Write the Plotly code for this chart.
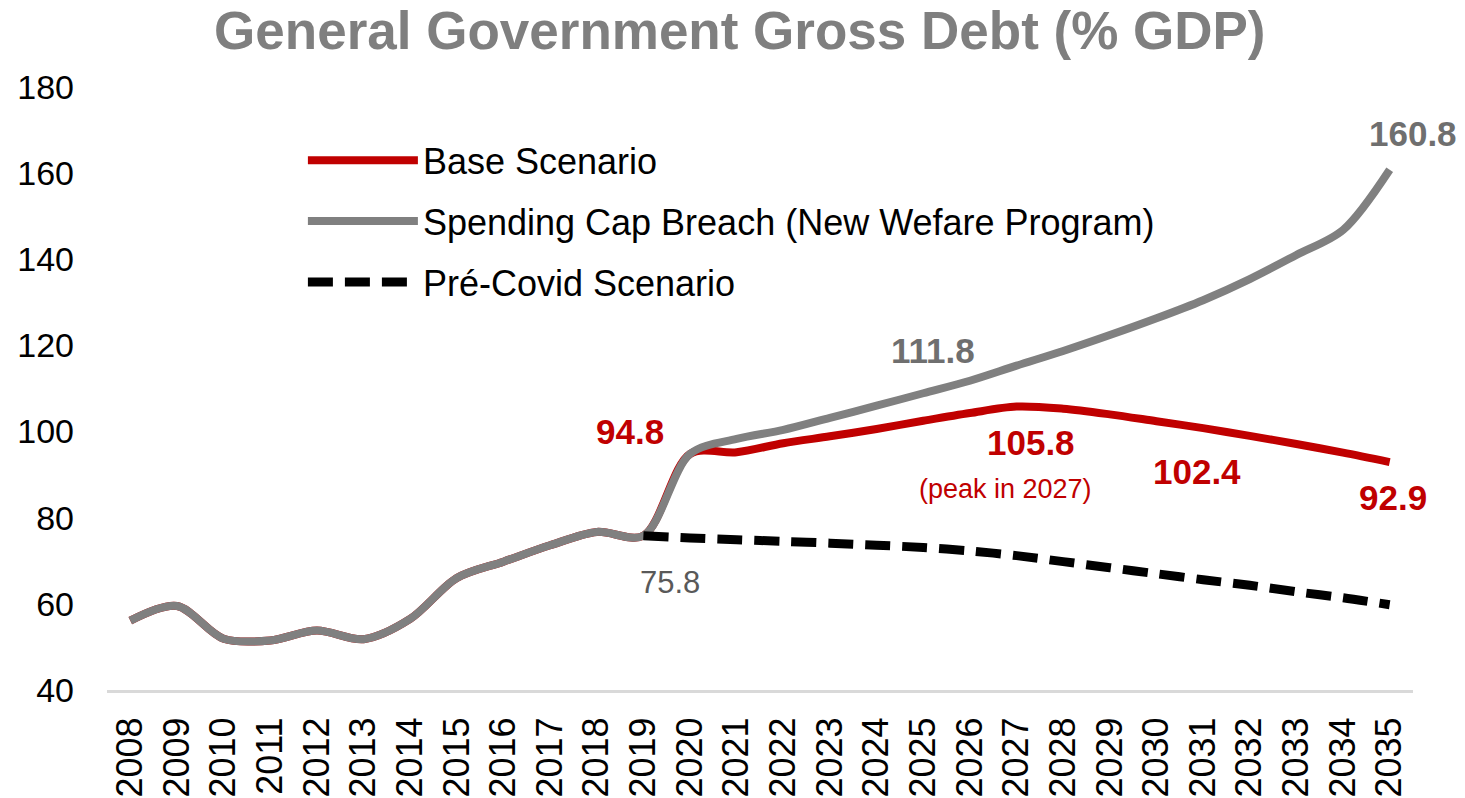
import plotly.graph_objects as go

years = list(range(2008, 2036))
hist = [56.1, 59.5, 51.9, 51.5, 53.8, 51.8, 56.5, 66.0, 69.8, 73.6, 76.7, 75.8]
base_proj = [94.8, 95.2, 97.3, 98.9, 100.6, 102.5, 104.3, 105.8, 105.3, 104.0,
             102.4, 100.8, 99.0, 97.1, 95.1, 92.9]
cap_proj = [94.8, 98.3, 100.4, 103.2, 106.0, 108.9, 111.8, 115.3, 118.7, 122.4,
            126.3, 130.5, 135.4, 141.0, 146.8, 160.8]
precovid_years = list(range(2019, 2036))
precovid = [75.8, 75.3, 74.9, 74.5, 74.1, 73.6, 73.1, 72.3, 71.2, 69.8, 68.4,
            67.0, 65.6, 64.3, 62.8, 61.4, 59.8]

base = hist + base_proj
cap = hist + cap_proj

RED = "#C00000"
GRAY = "#808080"
FONT = "Arial, Liberation Sans, sans-serif"

fig = go.Figure()
fig.add_trace(go.Scatter(x=years, y=base, mode="lines", name="Base Scenario",
                         legendgroup="a",
                         line=dict(color=RED, width=8, shape="spline", smoothing=0.9)))
fig.add_trace(go.Scatter(x=years, y=cap, mode="lines",
                         name="Spending Cap Breach (New Wefare Program)",
                         legendgroup="b",
                         line=dict(color=GRAY, width=8, shape="spline", smoothing=0.9)))
fig.add_trace(go.Scatter(x=precovid_years, y=precovid, mode="lines",
                         name="Pré-Covid Scenario", legendgroup="c",
                         line=dict(color="black", width=9, dash="25px,12px",
                                   shape="spline", smoothing=0.9)))

def lab(x, y, text, color, size, bold, xs, ys):
    t = f"<b>{text}</b>" if bold else text
    fig.add_annotation(x=x, y=y, text=t, showarrow=False, xref="x", yref="y",
                       xshift=xs, yshift=ys,
                       font=dict(family=FONT, size=size, color=color))

lab(2020, base[12], "94.8", RED, 35, True, -60, 22)
lab(2019, precovid[0], "75.8", "#595959", 31, False, 27, -47)
lab(2027, base[19], "105.8", RED, 35, True, 14, -36)
lab(2027, base[19], "(peak in 2027)", RED, 27, False, -11, -82)
lab(2030, base[22], "102.4", RED, 35, True, 41, -50)
lab(2035, base[27], "92.9", RED, 35, True, 3, -35)
lab(2026, cap[18], "111.8", "#6F6F6F", 35, True, -37, 30)
lab(2035, cap[27], "160.8", "#6F6F6F", 35, True, 23, 36)

fig.update_layout(
    width=1465, height=798,
    margin=dict(l=107, r=52, t=87, b=108, autoexpand=False),
    paper_bgcolor="white", plot_bgcolor="white",
    font=dict(family=FONT, color="black"),
    title=dict(text="<b>General Government Gross Debt (% GDP)</b>",
               x=0.505, xanchor="center", y=0.962, yanchor="middle",
               font=dict(family=FONT, size=53, color="#7F7F7F")),
    xaxis=dict(range=[2007.5, 2035.5], tickmode="array", tickvals=years,
               ticktext=[str(y) for y in years], tickangle=-90,
               tickfont=dict(size=36, color="black"), showgrid=False,
               showline=True, linecolor="#D9D9D9", linewidth=3, ticks="",
               ticklabelstandoff=10, automargin=False,
               zeroline=False, fixedrange=True),
    yaxis=dict(range=[40, 180], tickmode="array", tickvals=list(range(40, 181, 20)),
               tickfont=dict(size=34, color="black"), showgrid=False,
               showline=False, zeroline=False, ticks="", ticklen=0,
               ticklabelstandoff=32, automargin=False,
               fixedrange=True),
    legend=dict(x=0.150, y=0.928, xanchor="left", yanchor="top",
                font=dict(family=FONT, size=36, color="black"),
                bgcolor="rgba(0,0,0,0)", tracegroupgap=11, itemwidth=110),
    showlegend=True,
)

fig.write_html("out.html")
